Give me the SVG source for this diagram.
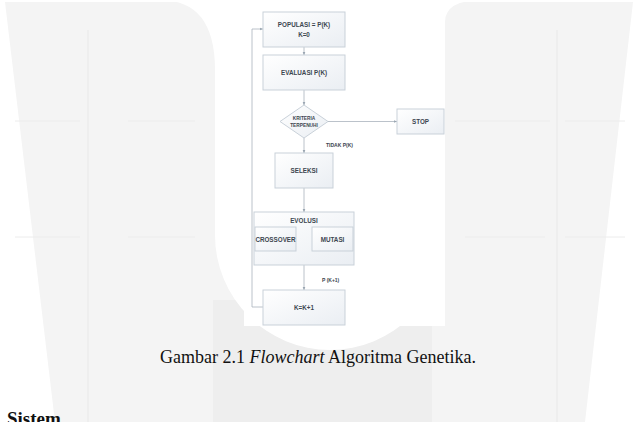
<svg xmlns="http://www.w3.org/2000/svg" width="638" height="422" viewBox="0 0 638 422">
<defs>
<linearGradient id="bx" x1="0" y1="0" x2="1" y2="1">
<stop offset="0" stop-color="#ffffff"/>
<stop offset="1" stop-color="#eaeef3"/>
</linearGradient>
<marker id="ah" viewBox="0 0 6 6" refX="5.5" refY="3" markerWidth="4" markerHeight="4" orient="auto">
<path d="M0,0.5 L6,3 L0,5.5 Z" fill="#9aa6b2"/>
</marker>
<style>
.box{fill:url(#bx);stroke:#c9d1d9;stroke-width:1}
.t{font-family:"Liberation Sans",Arial,sans-serif;font-weight:bold;font-size:6.3px;fill:#3c4650;text-anchor:middle}
.ts{font-family:"Liberation Sans",Arial,sans-serif;font-weight:bold;font-size:5px;fill:#3c4650}
.ln{fill:none;stroke:#aab3bd;stroke-width:0.8}
.cap{font-family:"Liberation Serif","Times New Roman",serif;font-size:18px;fill:#111}
</style>
</defs>
<rect width="638" height="422" fill="#ffffff"/>
<g id="watermark">
<path d="M5,2 L633,2 L585,422 L55,422 Z" fill="#f4f4f4"/>
<rect x="213" y="300" width="219" height="122" fill="#eeeeee"/>
<line x1="88" y1="30" x2="88" y2="422" stroke="#ececec" stroke-width="1.5"/>
<line x1="557" y1="30" x2="557" y2="422" stroke="#ececec" stroke-width="1.5"/>
<line x1="15" y1="121" x2="80" y2="121" stroke="#ececec"/>
<line x1="128" y1="121" x2="195" y2="121" stroke="#ececec"/>
<line x1="15" y1="237" x2="80" y2="237" stroke="#ececec"/>
<line x1="128" y1="237" x2="195" y2="237" stroke="#ececec"/>
<line x1="455" y1="121" x2="550" y2="121" stroke="#ececec"/>
<line x1="565" y1="121" x2="625" y2="121" stroke="#ececec"/>
<line x1="465" y1="237" x2="545" y2="237" stroke="#ececec"/>
<line x1="565" y1="237" x2="625" y2="237" stroke="#ececec"/>
<path d="M160,0 Q215,0 215,70 L215,235 A115,115 0 0 0 445,235 L445,22 Q445,0 483,0 Z" fill="#ffffff"/>
<rect x="244" y="0" width="201" height="326" fill="#ffffff"/>
</g>
<g id="connectors">
<line class="ln" x1="304" y1="47" x2="304" y2="55" marker-end="url(#ah)"/>
<line class="ln" x1="304" y1="90" x2="304" y2="105" marker-end="url(#ah)"/>
<line class="ln" x1="328" y1="121.5" x2="397" y2="121.5" marker-end="url(#ah)"/>
<line class="ln" x1="304" y1="138" x2="304" y2="153" marker-end="url(#ah)"/>
<line class="ln" x1="304" y1="188" x2="304" y2="212" marker-end="url(#ah)"/>
<line class="ln" x1="304" y1="265" x2="304" y2="290" marker-end="url(#ah)"/>
<polyline class="ln" points="263,307 252,307 252,29 263,29" marker-end="url(#ah)"/>
<text class="ts" x="326" y="146.5">TIDAK P(K)</text>
<text class="ts" x="322" y="282">P (K+1)</text>
</g>
<g id="populasi">
<rect class="box" x="263" y="12" width="82" height="35"/>
<text class="t" x="304" y="26.5">POPULASI = P(K)</text>
<text class="t" x="304" y="36.5">K=0</text>
</g>
<g id="evaluasi">
<rect class="box" x="263" y="55" width="82" height="35"/>
<text class="t" x="304" y="75">EVALUASI P(K)</text>
</g>
<g id="kriteria">
<polygon class="box" points="304,105 328,121.5 304,138 280,121.5"/>
<text class="t" x="304" y="120" style="font-size:4.8px">KRITERIA</text>
<text class="t" x="304" y="127" style="font-size:4.8px">TERPENUHI</text>
</g>
<g id="stop">
<rect class="box" x="397" y="109" width="47" height="25"/>
<text class="t" x="420.5" y="124">STOP</text>
</g>
<g id="seleksi">
<rect class="box" x="275" y="153" width="58" height="35"/>
<text class="t" x="304" y="173">SELEKSI</text>
</g>
<g id="evolusi">
<rect class="box" x="254" y="212" width="100" height="53"/>
<text class="t" x="304" y="223">EVOLUSI</text>
<rect class="box" x="255" y="227" width="41" height="24"/>
<text class="t" x="275.5" y="241.5">CROSSOVER</text>
<rect class="box" x="312" y="227" width="41" height="24"/>
<text class="t" x="332.5" y="241.5">MUTASI</text>
</g>
<g id="kk1">
<rect class="box" x="263" y="290" width="82" height="35"/>
<text class="t" x="304" y="310">K=K+1</text>
</g>
<g id="caption">
<text class="cap" x="160" y="363">Gambar 2.1 <tspan font-style="italic">Flowchart</tspan> Algoritma Genetika.</text>
<text class="cap" x="7" y="425" font-weight="bold" style="font-size:19px">Sistem</text>
</g>
</svg>
